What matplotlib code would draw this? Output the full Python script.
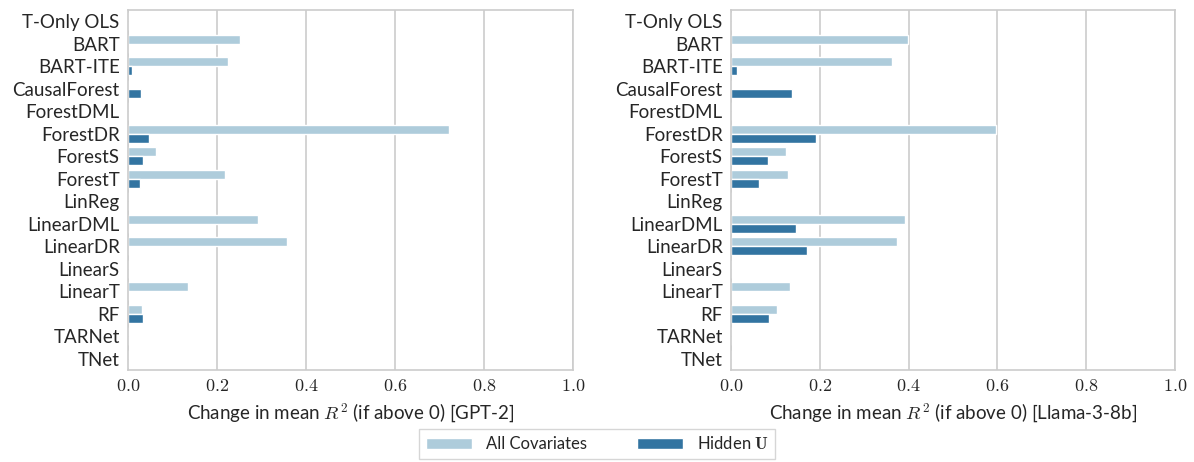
import matplotlib
matplotlib.use("Agg")
import matplotlib.pyplot as plt
import numpy as np
import seaborn as sns

methods = ["T-Only OLS", "BART", "BART-ITE", "CausalForest", "ForestDML", "ForestDR",
           "ForestS", "ForestT", "LinReg", "LinearDML", "LinearDR", "LinearS",
           "LinearT", "RF", "TARNet", "TNet"]

# change in mean R^2 (clipped at 0)
gpt2_all = [0.0, 0.252, 0.224, 0.0, 0.0, 0.722, 0.064, 0.217, 0.0, 0.293, 0.358, 0.0,
            0.135, 0.031, 0.0, 0.0]
gpt2_hidden = [0.0, 0.0, 0.010, 0.029, 0.0, 0.048, 0.033, 0.027, 0.0, 0.0, 0.0, 0.0,
               0.0, 0.033, 0.0, 0.0]
llama_all = [0.0, 0.398, 0.363, 0.0, 0.0, 0.597, 0.124, 0.129, 0.0, 0.391, 0.373, 0.0,
             0.134, 0.103, 0.0, 0.0]
llama_hidden = [0.0, 0.0, 0.013, 0.138, 0.0, 0.191, 0.084, 0.064, 0.0, 0.146, 0.171, 0.0,
                0.0, 0.085, 0.0, 0.0]

models = ["GPT-2", "Llama-3-8b"]
series_labels = ["All Covariates", r"Hidden $\mathbf{U}$"]
colors = ["#aeccdb", "#3274a1"]

sns.set_style("whitegrid")
plt.rcParams["font.family"] = ["Lato", "DejaVu Sans"]
plt.rcParams["mathtext.fontset"] = "cm"
plt.rcParams["axes.edgecolor"] = "#cccccc"

fig = plt.figure(figsize=(11.94, 4.62), dpi=100)
ax1 = fig.add_axes([0.1072, 0.199, 0.3727, 0.779])
ax2 = fig.add_axes([0.6122, 0.199, 0.3719, 0.779])

y = np.arange(len(methods))
h = 0.4
for ax, model, vals_all, vals_hid in [(ax1, models[0], gpt2_all, gpt2_hidden),
                                      (ax2, models[1], llama_all, llama_hidden)]:
    ax.barh(y - h / 2, vals_all, height=h, color=colors[0], label=series_labels[0])
    ax.barh(y + h / 2, vals_hid, height=h, color=colors[1], label=series_labels[1])
    ax.set_xlim(0, 1.0)
    ax.set_ylim(len(methods) - 0.5, -0.5)
    ax.set_yticks(y)
    ax.set_yticklabels(methods, fontsize=13.5)
    ticks = np.arange(0, 1.01, 0.2)
    ax.set_xticks(ticks)
    ax.set_xticklabels([f"${t:.1f}$" for t in ticks], fontsize=13)
    ax.grid(axis="y", visible=False)
    ax.grid(axis="x", color="#cccccc", linewidth=1.2)
    for s in ax.spines.values():
        s.set_linewidth(1.2)
    ax.tick_params(axis="both", length=0, pad=6)
    ax.set_xlabel(f"Change in mean $R^2$ (if above 0) [{model}]", fontsize=13.5, labelpad=5)

handles, labels = ax1.get_legend_handles_labels()
fig.legend(handles, labels, loc="upper center", bbox_to_anchor=(0.5, 0.09), ncol=2,
           fontsize=12, frameon=True, edgecolor="#cccccc", handlelength=2.8,
           columnspacing=3.0, fancybox=False)

fig.savefig("out.png", dpi=100)
